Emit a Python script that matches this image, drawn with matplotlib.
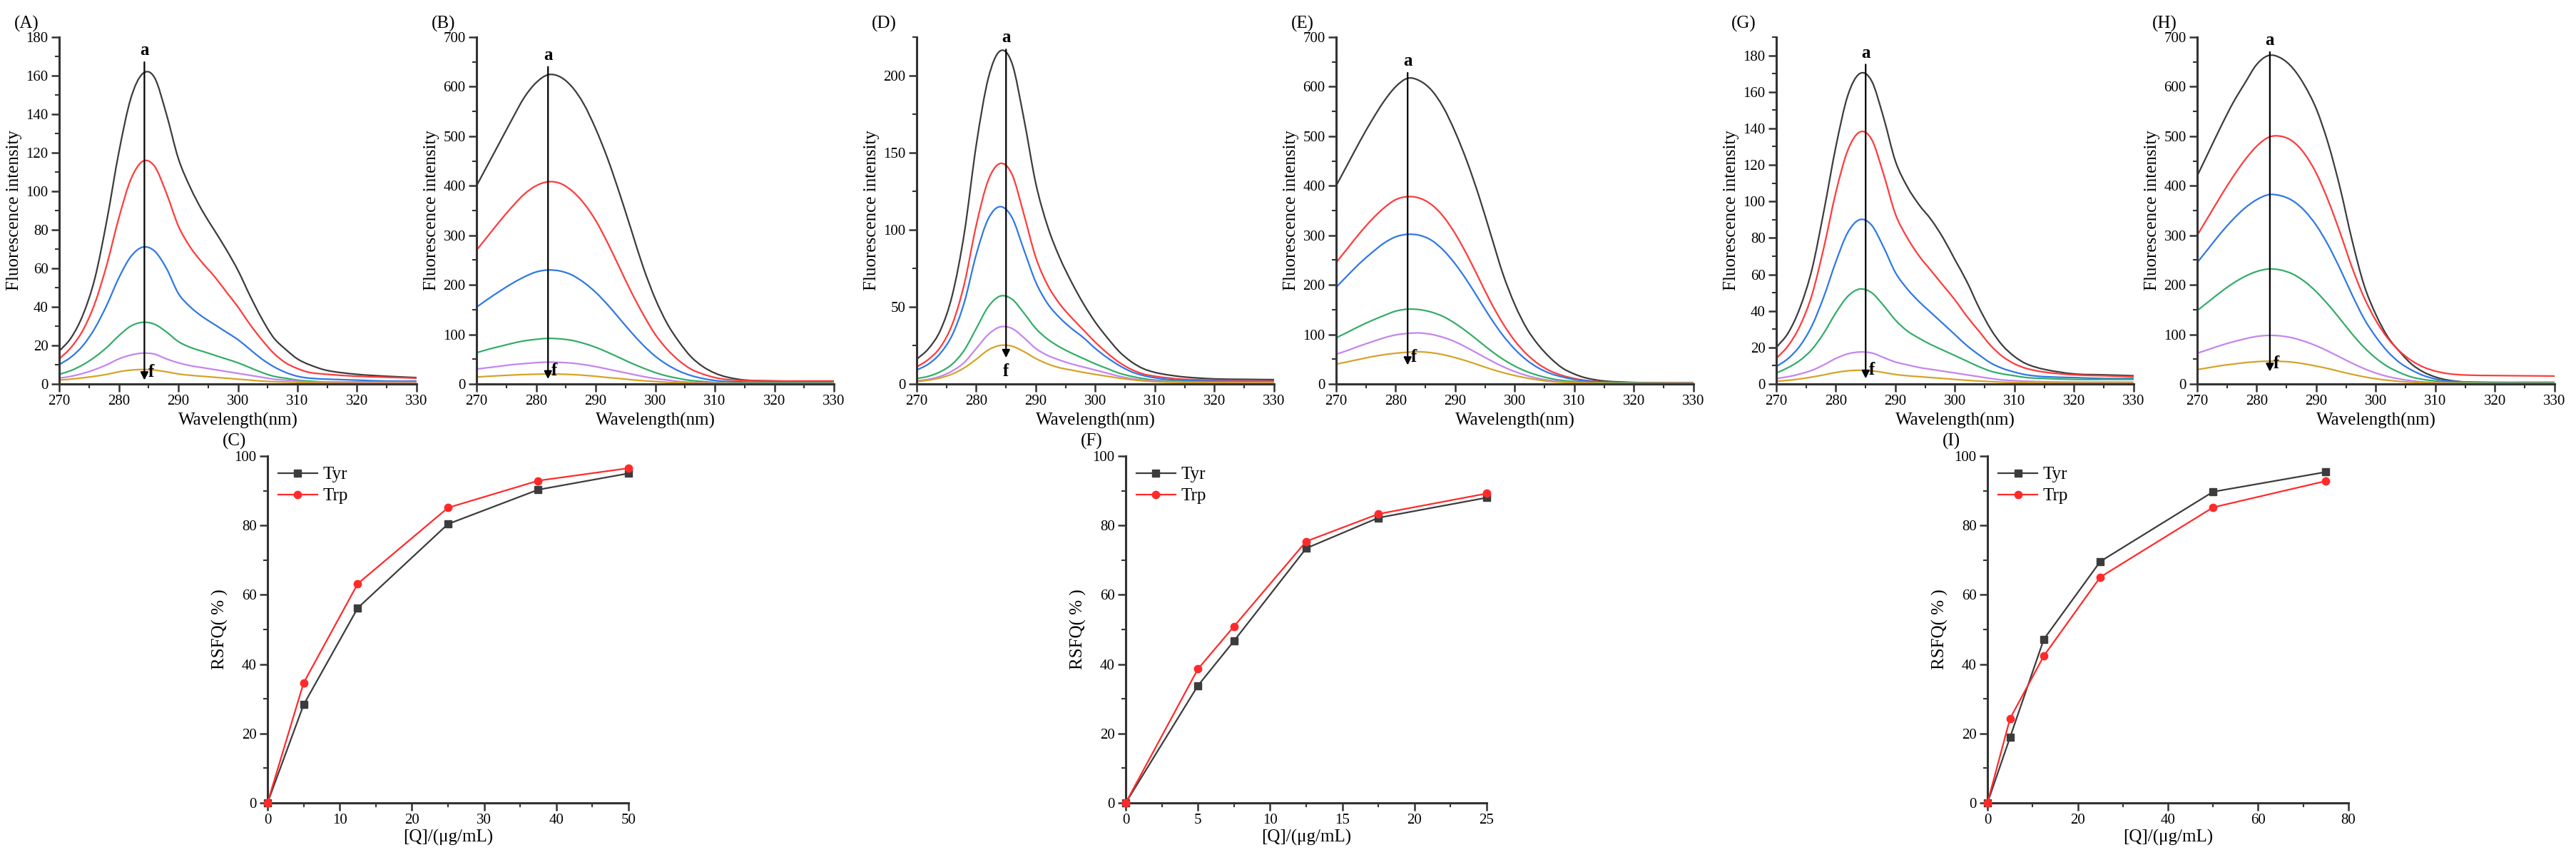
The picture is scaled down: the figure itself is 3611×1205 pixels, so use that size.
import matplotlib
matplotlib.use("Agg")
import matplotlib.pyplot as plt
from matplotlib.ticker import MultipleLocator
from matplotlib.path import Path
from matplotlib.patches import PathPatch

plt.rcParams['font.family'] = ['Liberation Serif', 'DejaVu Serif']

# wavelengths (nm) at which the spectra were read
wl = [270, 272, 274, 276, 278, 280, 282, 284, 286, 288, 290, 292, 294, 296,
      298, 300, 302, 304, 306, 308, 310, 312, 315, 320, 325, 330]

# curves a..f for each spectra panel
spec_A = [
    [17, 24, 36, 55, 85, 120, 148, 161, 159, 140, 117, 102, 90, 80, 70, 59, 46, 34, 24, 18, 13, 10, 7, 5, 4, 3.3],
    [13, 19, 28, 42, 62, 86, 106, 115.5, 113, 99, 82, 71, 63, 56, 48, 40, 31, 23, 16, 11, 8, 6, 5, 4, 3.5, 3],
    [10, 14, 20, 29, 41, 55, 66, 71, 69, 60, 47, 40, 35, 31, 27, 23, 18, 13, 9, 6, 4, 3, 2.5, 2, 1.5, 1.5],
    [5, 7, 10, 14, 19, 25, 30, 32, 31, 27, 22, 19, 17, 15, 13, 11, 8.5, 6, 4, 3, 2, 1.5, 1, 1, 1, 1],
    [3, 4, 5.5, 7.5, 10, 13, 15, 16, 15.5, 13, 11, 9.5, 8.5, 7.5, 6.5, 5.5, 4.5, 3.5, 2.5, 2, 1.5, 1, 1, 0.8, 0.8, 0.8],
    [2, 2.5, 3.2, 4, 5, 6.3, 7.2, 7.5, 7.2, 6.3, 5.2, 4.5, 4, 3.5, 3, 2.5, 2, 1.5, 1.2, 1, 0.8, 0.6, 0.5, 0.4, 0.4, 0.4],
]
spec_B = [
    [400, 445, 490, 535, 578, 608, 624, 620, 600, 565, 515, 455, 385, 310, 235, 172, 122, 85, 55, 35, 22, 14, 8, 6, 5, 5],
    [270, 300, 330, 358, 383, 400, 408, 405, 390, 365, 330, 285, 235, 185, 140, 100, 70, 47, 30, 20, 13, 9, 7, 6, 6, 6],
    [155, 172, 188, 203, 216, 226, 230, 228, 220, 205, 185, 160, 132, 104, 78, 56, 39, 26, 17, 11, 7, 5, 4, 3, 3, 3],
    [63, 70, 76, 82, 87, 90, 92, 91, 88, 82, 74, 64, 53, 42, 32, 23, 16, 11, 7, 5, 3, 2, 2, 2, 2, 2],
    [30, 33, 36, 39, 41, 43, 44, 43.5, 42, 39, 35, 30, 25, 20, 15, 11, 8, 5, 3.5, 2.5, 2, 1.5, 1, 1, 1, 1],
    [14, 15.5, 16.8, 18, 19, 19.7, 20, 19.8, 19, 17.5, 15.5, 13, 11, 8.5, 6.5, 5, 3.5, 2.5, 2, 1.5, 1, 1, 1, 1, 1, 1],
]
spec_D = [
    [16, 23, 35, 58, 98, 155, 198, 216, 208, 172, 130, 102, 82, 66, 52, 40, 30, 21, 14.5, 10, 7.5, 6, 4.5, 3.3, 3, 2.8],
    [11, 16, 24, 39, 65, 103, 132, 143, 136, 110, 82, 64, 52, 43, 35, 27, 20, 14, 9.5, 6.5, 5, 4, 3, 2.5, 2.2, 2],
    [9, 13, 20, 32, 53, 84, 107, 115, 108, 87, 66, 52, 43, 36, 30, 23, 17, 12, 8, 5.5, 4, 3, 2.3, 1.8, 1.6, 1.5],
    [3.5, 5, 8, 13, 22, 36, 50, 57, 55, 46, 36, 29, 24, 20, 16.5, 13, 10, 7, 5, 3.5, 2.5, 2, 1.5, 1.2, 1, 1],
    [2, 3, 5, 8.5, 14, 23, 32, 37, 36, 30, 23, 18.5, 15.5, 13, 11, 9, 7, 5, 3.5, 2.5, 2, 1.5, 1.2, 1, 1, 1],
    [1.5, 2.5, 4, 6.5, 10.5, 16, 22, 25, 24.5, 21, 16.5, 13, 10.5, 9, 7.5, 6.2, 5, 3.8, 2.8, 2, 1.5, 1.2, 1, 0.8, 0.7, 0.7],
]
spec_E = [
    [400, 445, 490, 532, 570, 600, 617, 612, 593, 558, 508, 448, 378, 300, 222, 160, 112, 78, 52, 32, 20, 12, 6, 3, 2, 2],
    [245, 275, 305, 332, 355, 372, 378, 375, 362, 338, 303, 260, 212, 164, 122, 87, 60, 40, 26, 17, 11, 7, 4, 2.5, 2, 2],
    [195, 220, 244, 265, 284, 297, 302, 300, 290, 270, 242, 208, 170, 132, 98, 70, 48, 32, 21, 14, 9, 6, 3.5, 2.5, 2, 2],
    [93, 105, 117, 128, 138, 147, 151, 150, 145, 136, 122, 105, 86, 67, 50, 36, 25, 17, 11, 7, 5, 3.5, 2.5, 2, 1.5, 1.5],
    [60, 68, 77, 85, 93, 99, 102, 103, 100, 94, 85, 73, 60, 47, 35, 25, 17, 11, 7, 4.5, 3, 2, 1.5, 1, 1, 1],
    [40, 45, 50, 55, 59, 62, 64, 65, 63, 59, 53, 46, 38, 30, 23, 17, 12, 8, 5, 3.5, 2.5, 2, 1.5, 1, 1, 1],
]
spec_G = [
    [20, 28, 42, 63, 95, 130, 158, 170, 166, 146, 122, 108, 98, 90, 80, 68, 56, 42, 30, 21, 15, 11, 8, 5.5, 5, 4.5],
    [14, 21, 32, 49, 75, 105, 128, 138, 134, 115, 93, 80, 70, 62, 54, 46, 37, 29, 21, 15, 11, 8.5, 6.5, 5, 4.5, 4],
    [9.5, 14, 21, 32, 48, 67, 83, 90, 87, 75, 61, 52, 45, 39, 33, 27, 21, 16, 11.5, 8.5, 6.5, 5, 4, 3.5, 3, 3],
    [6, 9, 13, 19, 28, 39, 48, 52, 50, 43, 35, 29, 25, 21.5, 18.5, 15.5, 12.5, 9.5, 7, 5.5, 4.5, 3.5, 3, 2.5, 2.5, 2.5],
    [3, 4, 5.5, 7.5, 10.5, 14, 16.5, 17.5, 17, 14.5, 12, 10.5, 9, 8, 7, 6, 5, 4, 3, 2.2, 1.8, 1.5, 1.2, 1, 1, 1],
    [1.5, 2, 2.8, 3.8, 5, 6.3, 7.2, 7.5, 7.2, 6.3, 5.2, 4.5, 4, 3.5, 3, 2.5, 2, 1.6, 1.3, 1, 0.8, 0.7, 0.6, 0.5, 0.5, 0.5],
]
spec_H = [
    [420, 470, 520, 567, 607, 645, 663, 658, 638, 603, 555, 485, 395, 290, 200, 140, 95, 65, 40, 24, 14, 8, 4, 3, 3, 3],
    [300, 340, 380, 418, 452, 480, 498, 500, 490, 465, 425, 370, 305, 235, 175, 128, 92, 66, 47, 34, 26, 21, 18, 17, 16.5, 16],
    [245, 275, 305, 332, 355, 372, 382, 380, 370, 350, 320, 280, 232, 180, 132, 95, 65, 43, 28, 17, 10, 6, 4, 3, 3, 3],
    [148, 167, 186, 203, 217, 227, 232, 230, 222, 207, 186, 160, 131, 101, 74, 52, 35, 23, 14, 9, 6, 4, 3, 2, 2, 2],
    [62, 70, 78, 85, 91, 96, 98, 97, 93, 86, 77, 66, 54, 42, 31, 22, 15, 10, 6.5, 4, 3, 2, 1.5, 1, 1, 1],
    [29, 33, 37, 40, 43, 45, 46, 45.5, 44, 40.5, 36, 31, 25, 19.5, 14.5, 10.5, 7.5, 5, 3.5, 2.5, 2, 1.5, 1, 1, 1, 1],
]

# RSFQ (%) vs concentration
conc_C = [0, 5, 12.5, 25, 37.5, 50]
tyr_C = [0, 28.3, 56.2, 80.4, 90.3, 95.0]
trp_C = [0, 34.6, 63.2, 85.1, 92.9, 96.5]
conc_F = [0, 5, 7.5, 12.5, 17.5, 25]
tyr_F = [0, 33.8, 46.7, 73.4, 82.2, 88.0]
trp_F = [0, 38.6, 50.9, 75.4, 83.3, 89.2]
conc_I = [0, 5, 12.5, 25, 50, 75]
tyr_I = [0, 18.9, 47.2, 69.6, 89.7, 95.4]
trp_I = [0, 24.3, 42.4, 65.1, 85.2, 92.8]

colors = ['#3c3c3c', '#ff3b3b', '#2f78e6', '#34ad68', '#c485f0', '#d6a328']

W, H = 3612, 1205
fig = plt.figure(figsize=(W / 100, H / 100), dpi=100)


def box(left, top, width=501, height=486):
    return [left / W, 1 - (top + height) / H, width / W, height / H]


def spline_path(x, y):
    # smooth (bezier) connection of the read points, like Origin's spline line
    n = len(x)
    slopes = []
    for i in range(n):
        a, b = max(i - 1, 0), min(i + 1, n - 1)
        slopes.append((y[b] - y[a]) / (x[b] - x[a]))
    verts = [(x[0], y[0])]
    codes = [Path.MOVETO]
    for i in range(n - 1):
        h = (x[i + 1] - x[i]) / 3
        verts += [(x[i] + h, y[i] + slopes[i] * h),
                  (x[i + 1] - h, y[i + 1] - slopes[i + 1] * h),
                  (x[i + 1], y[i + 1])]
        codes += [Path.CURVE4] * 3
    return Path(verts, codes)


def style(ax):
    for s in ['top', 'right']:
        ax.spines[s].set_visible(False)
    for s in ['left', 'bottom']:
        ax.spines[s].set_linewidth(2.2)
        ax.spines[s].set_color('#333333')
    ax.tick_params(which='major', direction='out', length=8, width=1.8,
                   labelsize=15, color='#333333', pad=3)
    ax.tick_params(which='minor', direction='out', length=4, width=1.5, color='#333333')


top_row = [
    ('(A)', spec_A, 83, 180, 20, 284.3, 167, 2, 'right'),
    ('(B)', spec_B, 668, 700, 100, 282.0, 640, 10, 'right'),
    ('(D)', spec_D, 1285, 225, 50, 285.0, 217, 17, 'below'),
    ('(E)', spec_E, 1873, 700, 100, 282.0, 628, 38, 'right'),
    ('(G)', spec_G, 2490, 190, 20, 285.0, 175, 3, 'right'),
    ('(H)', spec_H, 3080, 700, 100, 282.2, 670, 25, 'right'),
]

for label, spec, left, ymax, ymaj, xarr, ytop, ybot, fpos in top_row:
    ax = fig.add_axes(box(left, 52))
    for curve, c in zip(spec, colors):
        ax.add_patch(PathPatch(spline_path(wl, curve), fill=False,
                               edgecolor=c, lw=1.6))
    ax.set_xlim(270, 330)
    ax.set_ylim(0, ymax)
    ax.xaxis.set_major_locator(MultipleLocator(10))
    ax.xaxis.set_minor_locator(MultipleLocator(5))
    ax.yaxis.set_major_locator(MultipleLocator(ymaj))
    ax.yaxis.set_minor_locator(MultipleLocator(ymaj / 2))
    style(ax)
    ax.set_xlabel('Wavelength(nm)', fontsize=18, labelpad=4)
    ax.set_ylabel('Fluorescence intensity', fontsize=18, labelpad=4)
    ax.annotate('', xy=(xarr, ybot), xytext=(xarr, ytop),
                arrowprops=dict(arrowstyle='-|>', color='black', lw=1.6,
                                mutation_scale=16, shrinkA=0, shrinkB=0))
    ax.text(xarr, ytop + ymax * 0.01, 'a', ha='center', va='bottom',
            fontsize=18, fontweight='bold')
    if fpos == 'below':
        ax.text(xarr, ybot - ymax * 0.015, 'f', ha='center', va='top',
                fontsize=18, fontweight='bold')
    else:
        ax.text(xarr + 0.6, ybot, 'f', ha='left', va='bottom',
                fontsize=18, fontweight='bold')
    fig.text((left - 63) / W, 1 - 33 / H, label, fontsize=18, va='center')

bottom_row = [
    ('(C)', conc_C, tyr_C, trp_C, 375, 50, 10),
    ('(F)', conc_F, tyr_F, trp_F, 1578, 25, 5),
    ('(I)', conc_I, tyr_I, trp_I, 2786, 80, 20),
]

for label, conc, tyr, trp, left, xmax, xmaj in bottom_row:
    ax = fig.add_axes(box(left, 639, width=506))
    ax.plot(conc, tyr, color='#3c3c3c', lw=1.6, marker='s', ms=7,
            label='Tyr', clip_on=False, zorder=3)
    ax.plot(conc, trp, color='#ff2a2a', lw=1.6, marker='o', ms=7.5,
            label='Trp', clip_on=False, zorder=3)
    ax.set_xlim(0, xmax)
    ax.set_ylim(0, 100)
    ax.xaxis.set_major_locator(MultipleLocator(xmaj))
    ax.xaxis.set_minor_locator(MultipleLocator(xmaj / 2))
    ax.yaxis.set_major_locator(MultipleLocator(20))
    ax.yaxis.set_minor_locator(MultipleLocator(10))
    style(ax)
    ax.set_xlabel('[Q]/(\u03bcg/mL)', fontsize=18, labelpad=2)
    ax.set_ylabel('RSFQ( % )', fontsize=18, labelpad=6)
    ax.legend(loc='upper left', frameon=False, fontsize=18, handlelength=2.2,
              handletextpad=0.3, labelspacing=0.3, borderaxespad=0.2,
              bbox_to_anchor=(0.0, 1.0))
    fig.text((left - 63) / W, 1 - 618 / H, label, fontsize=18, va='center')

fig.savefig('out.png', dpi=100, facecolor='white')
